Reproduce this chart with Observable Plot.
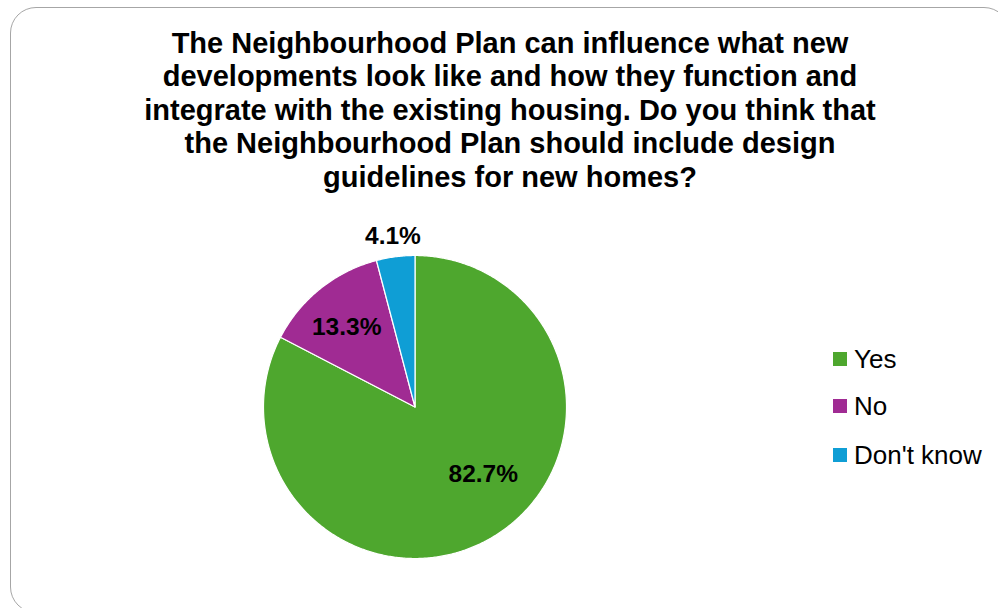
<!DOCTYPE html>
<html>
<head>
<meta charset="utf-8">
<script src="https://cdn.jsdelivr.net/npm/d3@7"></script>
<script src="https://cdn.jsdelivr.net/npm/@observablehq/plot@0.6"></script>
<style>
  html, body { margin: 0; padding: 0; background: #fff; }
  #wrap { position: relative; width: 998px; height: 608px; overflow: hidden; font-family: "Liberation Sans", Arial, sans-serif; }
  #frame { position: absolute; left: 10px; top: 7px; width: 1000px; height: 606px; border: 1.3px solid #a6a6a6; border-radius: 26px; box-sizing: border-box; }
  #title { position: absolute; left: 10px; width: 1000px; top: 26.5px; text-align: center; font-weight: bold; font-size: 29px; line-height: 33.5px; color: #000; white-space: nowrap; }
  #chart { position: absolute; left: 0; top: 0; }
  .lg { position: absolute; left: 833px; height: 20px; display: flex; align-items: center; font-size: 26px; color: #000; white-space: nowrap; }
  .lg .sw { width: 14px; height: 14px; margin-right: 7px; flex: none; }
</style>
</head>
<body>
<div id="wrap">
  <div id="frame"></div>
  <div id="chart"></div>
  <div id="title">The Neighbourhood Plan can influence what new<br>developments look like and how they function and<br>integrate with the existing housing. Do you think that<br>the Neighbourhood Plan should include design<br>guidelines for new homes?</div>
</div>
<script>
const categories = ["Yes", "No", "Don't know"];
const values = [82.7, 13.3, 4.1];
const labels = ["82.7%", "13.3%", "4.1%"];
const colors = ["#4EA72E", "#A02B93", "#0F9ED5"];

const rows = categories.map((c, i) => ({key: c, value: values[i], label: labels[i]}));
const arcs = d3.pie().value(d => d.value).sort(null)(rows);

// polygon outline for each slice (unit circle, angle clockwise from top)
const slicePts = [];
for (const a of arcs) {
  slicePts.push({key: a.data.key, x: 0, y: 0});
  const n = Math.max(2, Math.ceil((a.endAngle - a.startAngle) / (Math.PI / 360)));
  for (let k = 0; k <= n; k++) {
    const t = a.startAngle + (a.endAngle - a.startAngle) * k / n;
    slicePts.push({key: a.data.key, x: Math.sin(t), y: Math.cos(t)});
  }
}

const labelPts = arcs.map(a => {
  const mid = (a.startAngle + a.endAngle) / 2;
  const r = a.data.key === "Don't know" ? 1.135 : 0.69;
  return {key: a.data.key, label: a.data.label, x: r * Math.sin(mid), y: r * Math.cos(mid)};
});

const textOpts = {x: "x", y: "y", text: "label", fontSize: 24.5, fontWeight: "bold", fill: "#000", fontFamily: "Liberation Sans, Arial, sans-serif"};

const plot = Plot.plot({
  width: 998,
  height: 608,
  margin: 0,
  style: {background: "transparent", overflow: "visible"},
  x: {domain: [-1, 1], range: [263, 566], axis: null},
  y: {domain: [-1, 1], range: [558, 255], axis: null},
  color: {domain: categories, range: colors},
  marks: [
    Plot.line(slicePts, {x: "x", y: "y", z: "key", fill: "key", stroke: "#fff", strokeWidth: 1.2, curve: "linear-closed"}),
    Plot.text(labelPts.filter(d => d.key === "Yes"), {...textOpts, dx: 14, dy: -22}),
    Plot.text(labelPts.filter(d => d.key === "No"), {...textOpts, dx: -3, dy: 2}),
    Plot.text(labelPts.filter(d => d.key === "Don't know"), {...textOpts, dx: 0, dy: 0})
  ]
});
document.getElementById("chart").appendChild(plot);

// legend
const wrap = document.getElementById("wrap");
const legendY = [349, 396, 445];
categories.forEach((c, i) => {
  const el = document.createElement("div");
  el.className = "lg";
  el.style.top = legendY[i] + "px";
  const sw = document.createElement("span");
  sw.className = "sw";
  sw.style.background = colors[i];
  el.appendChild(sw);
  el.appendChild(document.createTextNode(c));
  wrap.appendChild(el);
});
</script>
</body>
</html>
